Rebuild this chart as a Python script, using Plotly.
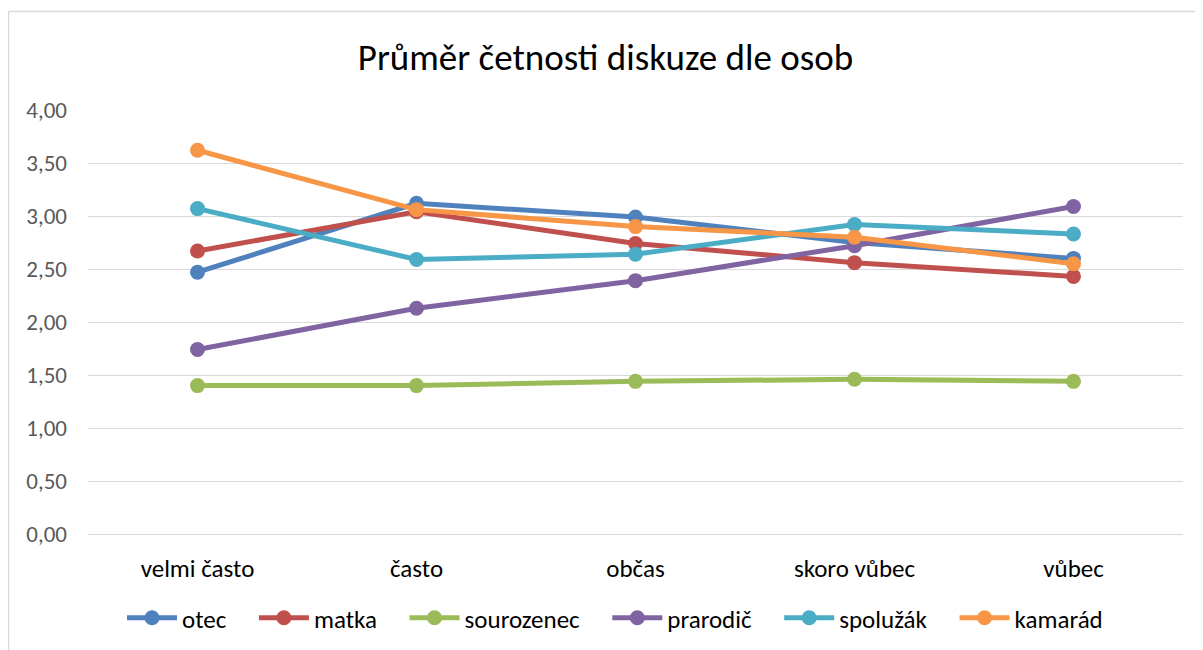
import plotly.graph_objects as go

kategorie = ['velmi často', 'často', 'občas', 'skoro vůbec', 'vůbec']

otec = [2.47, 3.12, 2.99, 2.75, 2.60]
matka = [2.67, 3.04, 2.74, 2.56, 2.43]
sourozenec = [1.40, 1.40, 1.44, 1.46, 1.44]
prarodic = [1.74, 2.13, 2.39, 2.72, 3.09]
spoluzak = [3.07, 2.59, 2.64, 2.92, 2.83]
kamarad = [3.62, 3.06, 2.90, 2.80, 2.55]

serie = [
    ('otec', otec, '#4F81BD'),
    ('matka', matka, '#C0504D'),
    ('sourozenec', sourozenec, '#9BBB59'),
    ('prarodič', prarodic, '#8064A2'),
    ('spolužák', spoluzak, '#4BACC6'),
    ('kamarád', kamarad, '#F79646'),
]

fig = go.Figure()
for i, (jmeno, hodnoty, barva) in enumerate(serie):
    # mezery za jménem, aby položky legendy měly větší odstup jako v originále
    popisek = jmeno + ('\u00a0' * 4 if i < len(serie) - 1 else '')
    fig.add_trace(go.Scatter(x=kategorie, y=hodnoty, name=popisek, mode='lines+markers',
                             line=dict(color=barva, width=5),
                             marker=dict(color=barva, size=15)))

# stránka má 8px okraj, proto je obrázek o 8px menší
fig.update_layout(
    width=1195, height=642,
    plot_bgcolor='white', paper_bgcolor='white',
    separators=', ',
    font=dict(family='Carlito, Calibri, Open Sans, sans-serif', color='#595959', size=23),
    title=dict(text='Průměr četnosti diskuze dle osob', x=0.5, xanchor='center', y=1 - 49 / 642, yanchor='middle',
               font=dict(size=37, color='#000000')),
    margin=dict(l=80, r=20, t=102, b=116),
    legend=dict(orientation='h', xref='container', yref='container', x=(607 - 0) / 1195, xanchor='center',
                y=1 - 610 / 642, yanchor='middle',
                font=dict(size=25, color='#000000'), itemwidth=50, tracegroupgap=0),
    showlegend=True,
)
fig.update_xaxes(showgrid=False, showline=False, ticks='', tickfont=dict(color='#000000', size=25),
                 range=[-0.5, 4.5], ticklabelstandoff=17)
fig.update_yaxes(range=[0, 4], dtick=0.5, tickformat='.2f', gridcolor='#D9D9D9', gridwidth=1.3,
                 zeroline=True, zerolinecolor='#D9D9D9', zerolinewidth=1.3, showline=False,
                 ticks='', ticklabelstandoff=20)

# rámeček grafu (jen levá a horní hrana, zbytek je oříznutý)
x_levy = (0.5 - 80) / 1095
y_horni = 1 + (102 - 3.5) / 424
fig.add_shape(type='line', xref='paper', yref='paper', x0=x_levy, x1=x_levy, y0=-116 / 424, y1=y_horni,
              line=dict(color='#D9D9D9', width=1.5))
fig.add_shape(type='line', xref='paper', yref='paper', x0=x_levy, x1=1 + 20 / 1095, y0=y_horni, y1=y_horni,
              line=dict(color='#D9D9D9', width=1.5))

fig.write_html('out.html')
